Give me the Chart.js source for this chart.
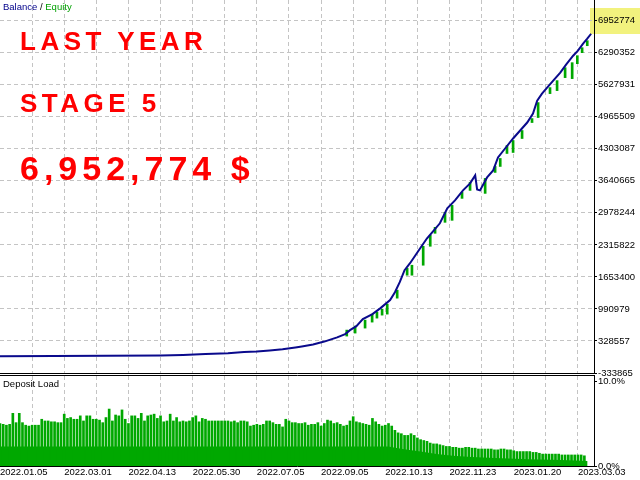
<!DOCTYPE html>
<html>
<head>
<meta charset="utf-8">
<script src="https://cdn.jsdelivr.net/npm/chart.js@4.4.0/dist/chart.umd.min.js"></script>
<style>
  body { margin: 0; width: 640px; height: 480px; overflow: hidden; background: #fff; font-family: 'Liberation Sans', Arial, sans-serif; }
  canvas { position: absolute; left: 0; }
  #main { top: 0; }
  #load { top: 376px; }
  .note { position: absolute; white-space: nowrap; font-size: 9.5px; color: #000; }
  .big { position: absolute; left: 20px; white-space: nowrap; color: #ff0000; font-weight: bold; line-height: 1; letter-spacing: 4.5px; }
</style>
</head>
<body>
<canvas id="main" width="640" height="376"></canvas>
<canvas id="load" width="640" height="104"></canvas>
<div class="note" style="left:3px;top:1px"><span style="color:#00008b">Balance</span> / <span style="color:#00a000">Equity</span></div>
<div class="note" style="left:3px;top:378px">Deposit Load</div>
<div class="big" style="top:28px;font-size:26px">LAST YEAR</div>
<div class="big" style="top:90px;font-size:26px">STAGE 5</div>
<div class="big" style="top:151px;font-size:34px;letter-spacing:5px">6,952,774 $</div>
<script>
// x axis = deal number, one deposit-load spike per deal
const gridDeals = [0, 10, 20, 30, 40, 50, 60, 70, 80, 90, 100, 110, 120, 130, 140, 150, 160, 170, 180];
const dateLabels = ['2022.01.05', '2022.03.01', '2022.04.13', '2022.05.30', '2022.07.05',
  '2022.09.05', '2022.10.13', '2022.11.23', '2023.01.20', '2023.03.03'];

const yTicks = [-333865, 328557, 990979, 1653400, 2315822, 2978244, 3640665,
  4303087, 4965509, 5627931, 6290352, 6952774];
const lastBalanceLabel = 6952774;

const balanceDeals = [0, 50, 57, 64, 71, 76, 80, 84, 88, 92, 94, 97.5, 101, 105, 107.5, 109, 111, 113,
  116, 118.5, 121.5, 123, 124.5, 126, 127.7, 129.6, 131.5, 133, 134.6, 137, 139.3, 141.7, 144.2,
  146.4, 148, 148.6, 149.5, 151.7, 153.6, 155.1, 157.3, 159.8, 162, 164.2, 166, 167.3, 168.8,
  170.4, 172.3, 174.5, 176.3, 178.5, 180, 181.6, 182.9, 184.1];
const balanceValues = [15000, 27000, 38000, 58000, 73000, 100000, 110000, 130000, 155000, 192000,
  213000, 254000, 316000, 403000, 471000, 553000, 636000, 780000, 884000, 1008000, 1173000,
  1338000, 1544000, 1792000, 1936000, 2122000, 2308000, 2452000, 2576000, 2762000, 3071000,
  3236000, 3443000, 3587000, 3752000, 3463000, 3443000, 3711000, 3855000, 4123000, 4309000,
  4516000, 4681000, 4846000, 5031000, 5300000, 5444000, 5568000, 5712000, 5878000, 6043000,
  6228000, 6332000, 6476000, 6579000, 6682000];

// equity drawdowns below balance
const dipDeals = [108, 110.6, 113.7, 115.9, 117.4, 119, 120.6, 123.7, 126.8, 128.3, 131.8, 134,
  135.5, 138.6, 140.8, 143.9, 146.4, 151.1, 154.2, 155.8, 157.9, 159.8, 162.6, 165.7, 167.6,
  171.3, 173.5, 176, 178.2, 179.8, 181.3, 182.9];
const dipLow = [429667, 491575, 594755, 718571, 801115, 863023, 883659, 1213835, 1688463, 1688463,
  1894823, 2286907, 2555175, 2782171, 2823443, 3277435, 3442523, 3380615, 3813971, 3937787,
  4206055, 4226691, 4515595, 4845771, 4948951, 5444215, 5506123, 5774391, 5753755, 6063295,
  6290291, 6434743];
const dipHigh = [553483, 636027, 759843, 883659, 924931, 986839, 1090019, 1378923, 1832915, 1894823,
  2286907, 2513903, 2678991, 2988531, 3132983, 3401251, 3607611, 3690155, 3937787, 4102875,
  4371143, 4474323, 4680683, 4928315, 5258491, 5568031, 5712483, 5980751, 6083931, 6228383,
  6393471, 6537923];

// deposit load, % per deal
const loadSpikes = [
  5.0, 4.9, 4.8, 4.9, 6.2, 5.1, 6.2, 5.1, 4.8, 4.7, 4.8, 4.8, 4.8, 5.5, 5.3, 5.3, 5.2, 5.2, 5.1, 5.1,
  6.1, 5.6, 5.7, 5.5, 5.5, 5.9, 5.3, 5.9, 5.9, 5.5, 5.5, 5.4, 5.1, 5.7, 6.7, 5.3, 6.0, 5.9, 6.6, 5.5,
  5.0, 5.9, 5.9, 5.6, 6.2, 5.3, 5.9, 6.0, 6.1, 5.6, 5.9, 5.2, 5.3, 6.1, 5.3, 5.7, 5.2, 5.3, 5.2, 5.3,
  5.7,
  5.9, 5.2, 5.6, 5.5, 5.3, 5.3, 5.3, 5.3, 5.3, 5.3, 5.3, 5.2, 5.3, 5.1, 5.3, 5.3, 5.2, 4.7, 4.8, 4.9,
  4.8, 4.9, 5.3, 5.3, 5.1, 4.9, 4.9, 4.6, 5.5, 5.3, 5.1, 5.1, 5.0, 5.0, 5.1, 4.8, 4.9, 4.9, 5.1, 4.7,
  5.0, 5.4, 5.3, 5.0, 5.1, 4.9, 4.7, 4.8, 5.3, 5.8, 5.2, 5.1, 5.0, 4.9, 4.8, 5.6, 5.2, 4.9, 4.7, 4.8,
  5.0,
  4.7, 4.2, 3.9, 3.8, 3.6, 3.6, 3.8, 3.6, 3.3, 3.1, 3.0, 2.9, 2.7, 2.6, 2.6, 2.5, 2.4, 2.3, 2.3, 2.2,
  2.2, 2.1, 2.1, 2.2, 2.2, 2.1, 2.1, 2.0, 2.0, 2.0, 2.0, 2.0, 1.9, 1.9, 2.0, 2.0, 1.9, 1.9, 1.8, 1.7,
  1.7, 1.7, 1.7, 1.7, 1.6, 1.6, 1.5, 1.4, 1.4, 1.4, 1.4, 1.4, 1.4, 1.3, 1.3, 1.3, 1.3, 1.3, 1.3, 1.3,
  1.2];
const baseDeals = [0, 121, 124, 127, 131, 136, 141, 147, 154, 165, 175, 183];
const baseLoad = [2.3, 2.3, 2.1, 1.9, 1.7, 1.4, 1.2, 1.05, 0.95, 0.8, 0.7, 0.6];

const gridGray = '#c4c4c4';
const green = '#00a800';
const navy = '#0a0a8c';

Chart.defaults.font.family = "'Liberation Sans', Arial, sans-serif";
Chart.defaults.font.size = 9.5;
Chart.defaults.color = '#000';

const noEdgeLine = c => (c.tick && c.tick.value === 0 ? 'rgba(0,0,0,0)' : gridGray);

const lastBox = {
  id: 'lastBox',
  beforeDraw(chart) {
    const { ctx, chartArea, scales } = chart;
    const py = scales.y.getPixelForValue(lastBalanceLabel);
    ctx.save();
    ctx.fillStyle = '#f2f27e';
    ctx.fillRect(chartArea.right - 4, Math.round(py) - 13, chart.width - chartArea.right + 4, 26);
    ctx.restore();
  }
};

const bottomFrame = {
  id: 'bottomFrame',
  afterDraw(chart) {
    const { ctx, chartArea } = chart;
    ctx.save();
    ctx.strokeStyle = '#000';
    ctx.lineWidth = 1;
    ctx.beginPath();
    ctx.moveTo(0, chartArea.bottom + 0.5);
    ctx.lineTo(chartArea.right + 1, chartArea.bottom + 0.5);
    ctx.moveTo(0, chartArea.bottom + 2.5);
    ctx.lineTo(chartArea.right + 1, chartArea.bottom + 2.5);
    ctx.stroke();
    ctx.restore();
  }
};

new Chart(document.getElementById('main'), {
  type: 'line',
  data: {
    datasets: [
      {
        label: 'Balance',
        data: balanceDeals.map((d, i) => ({ x: d, y: balanceValues[i] })),
        borderColor: navy,
        borderWidth: 2,
        pointRadius: 0,
        tension: 0,
        order: 0
      },
      {
        type: 'bar',
        label: 'Equity',
        data: dipDeals.map((d, i) => ({ x: d, y: [dipLow[i], dipHigh[i]] })),
        backgroundColor: green,
        barThickness: 2,
        order: 1
      }
    ]
  },
  options: {
    responsive: false,
    animation: false,
    devicePixelRatio: 1,
    layout: { padding: { left: 0, right: 0, top: 0, bottom: 3 } },
    plugins: { legend: { display: false }, tooltip: { enabled: false } },
    scales: {
      x: {
        type: 'linear',
        offset: false,
        min: 0,
        max: 185,
        afterBuildTicks: s => { s.ticks = gridDeals.map(v => ({ value: v })); },
        afterFit: s => { s.height = 0; s.paddingLeft = 0; s.paddingRight = 0; },
        ticks: { display: false },
        grid: { offset: false, drawTicks: false, color: noEdgeLine },
        border: { display: false, dash: [4, 3] }
      },
      y: {
        position: 'right',
        min: -333865,
        max: 7380000,
        afterBuildTicks: s => { s.ticks = yTicks.map(v => ({ value: v })); },
        afterFit: s => { s.width = 46; s.paddingTop = 0; s.paddingBottom = 0; },
        ticks: { padding: 1, callback: v => String(v) },
        grid: { color: gridGray, tickColor: '#000', tickLength: 3, tickBorderDash: [] },
        border: { display: true, color: '#000', dash: [4, 3] }
      }
    }
  },
  plugins: [lastBox, bottomFrame]
});

new Chart(document.getElementById('load'), {
  type: 'bar',
  data: {
    datasets: [
      {
        type: 'line',
        label: 'Deposit Load',
        data: baseDeals.map((d, i) => ({ x: d, y: baseLoad[i] })),
        borderWidth: 0,
        pointRadius: 0,
        tension: 0,
        fill: 'origin',
        backgroundColor: green,
        order: 1
      },
      {
        label: 'Deposit Load',
        data: loadSpikes.map((v, i) => ({ x: i, y: v })),
        backgroundColor: green,
        barThickness: 2,
        order: 0
      }
    ]
  },
  options: {
    responsive: false,
    animation: false,
    devicePixelRatio: 1,
    layout: { padding: 0 },
    plugins: { legend: { display: false }, tooltip: { enabled: false } },
    scales: {
      x: {
        type: 'linear',
        offset: false,
        min: 0,
        max: 185,
        afterBuildTicks: s => { s.ticks = gridDeals.map(v => ({ value: v })); },
        afterFit: s => { s.height = 14; s.paddingLeft = 0; s.paddingRight = 0; },
        ticks: {
          autoSkip: false,
          maxRotation: 0,
          align: 'start',
          padding: 1,
          callback: v => (v % 20 === 0 ? dateLabels[v / 20] : '')
        },
        grid: { offset: false, drawTicks: false, color: noEdgeLine },
        border: { display: true, color: '#000', dash: [4, 3] }
      },
      y: {
        position: 'right',
        min: 0,
        max: 10.59,
        afterBuildTicks: s => { s.ticks = [0, 10].map(v => ({ value: v })); },
        afterFit: s => { s.width = 46; s.paddingTop = 0; s.paddingBottom = 0; },
        ticks: { padding: 1, callback: v => v.toFixed(1) + '%' },
        grid: { drawOnChartArea: false, tickColor: '#000', tickLength: 3 },
        border: { display: true, color: '#000' }
      }
    }
  }
});
</script>
</body>
</html>
